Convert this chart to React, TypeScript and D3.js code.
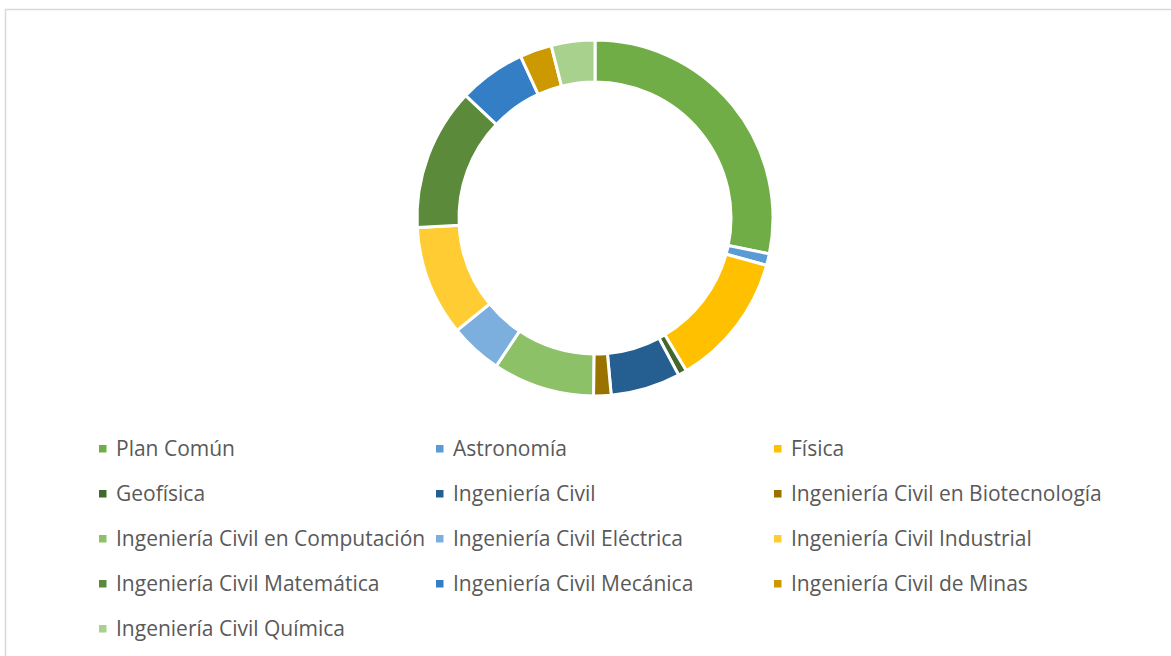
import React from 'react';
import * as d3 from 'd3';

const categories = [
  'Plan Común',
  'Astronomía',
  'Física',
  'Geofísica',
  'Ingeniería Civil',
  'Ingeniería Civil en Biotecnología',
  'Ingeniería Civil en Computación',
  'Ingeniería Civil Eléctrica',
  'Ingeniería Civil Industrial',
  'Ingeniería Civil Matemática',
  'Ingeniería Civil Mecánica',
  'Ingeniería Civil de Minas',
  'Ingeniería Civil Química',
];

const values = [107, 4, 46, 3, 24, 6, 35, 18, 38, 49, 23, 11, 15];

const colors = [
  '#70AD47', '#5B9BD5', '#FFC000', '#43682B', '#255E91', '#997300',
  '#8CC168', '#7CAFDD', '#FFCD33', '#5A8A3A', '#337EC4', '#CC9A00', '#A9D18E',
];

const WIDTH = 1171;
const HEIGHT = 656;
const CX = 595;
const CY = 218;
const OUTER = 178;
const INNER = 136;

const LEGEND_COLS = [116, 453, 791];
const LEGEND_Y0 = 456;
const LEGEND_STEP = 45;

export default function App() {
  const data = categories.map((name, i) => ({ name, value: values[i], color: colors[i] }));

  const pie = d3.pie<any>().value(d => d.value).sort(null);
  const arcs = pie(data);
  const arc = d3.arc<any>().innerRadius(INNER).outerRadius(OUTER);

  return (
    <div style={{ position: 'absolute', left: 0, top: 0 }}>
      <svg width={WIDTH} height={HEIGHT} style={{ display: 'block' }}>
        <rect x={0} y={0} width={WIDTH} height={HEIGHT} fill="#ffffff" />
        <rect x={5.5} y={9.5} width={1300} height={800} fill="none" stroke="#d9d9d9" strokeWidth={1.5} />
        <g transform={`translate(${CX},${CY})`}>
          {arcs.map((a, i) => (
            <path key={i} d={arc(a) as string} fill={a.data.color} stroke="#ffffff" strokeWidth={3} />
          ))}
        </g>
        <g fontFamily="'Open Sans', sans-serif" fontSize={21} fill="#595959">
          {data.map((d, i) => {
            const col = i % 3;
            const row = Math.floor(i / 3);
            const x = LEGEND_COLS[col];
            const y = LEGEND_Y0 + row * LEGEND_STEP;
            return (
              <g key={d.name}>
                <rect x={x - 17} y={y - 11} width={7.5} height={7.5} fill={d.color} />
                <text x={x} y={y}>{d.name}</text>
              </g>
            );
          })}
        </g>
      </svg>
    </div>
  );
}
